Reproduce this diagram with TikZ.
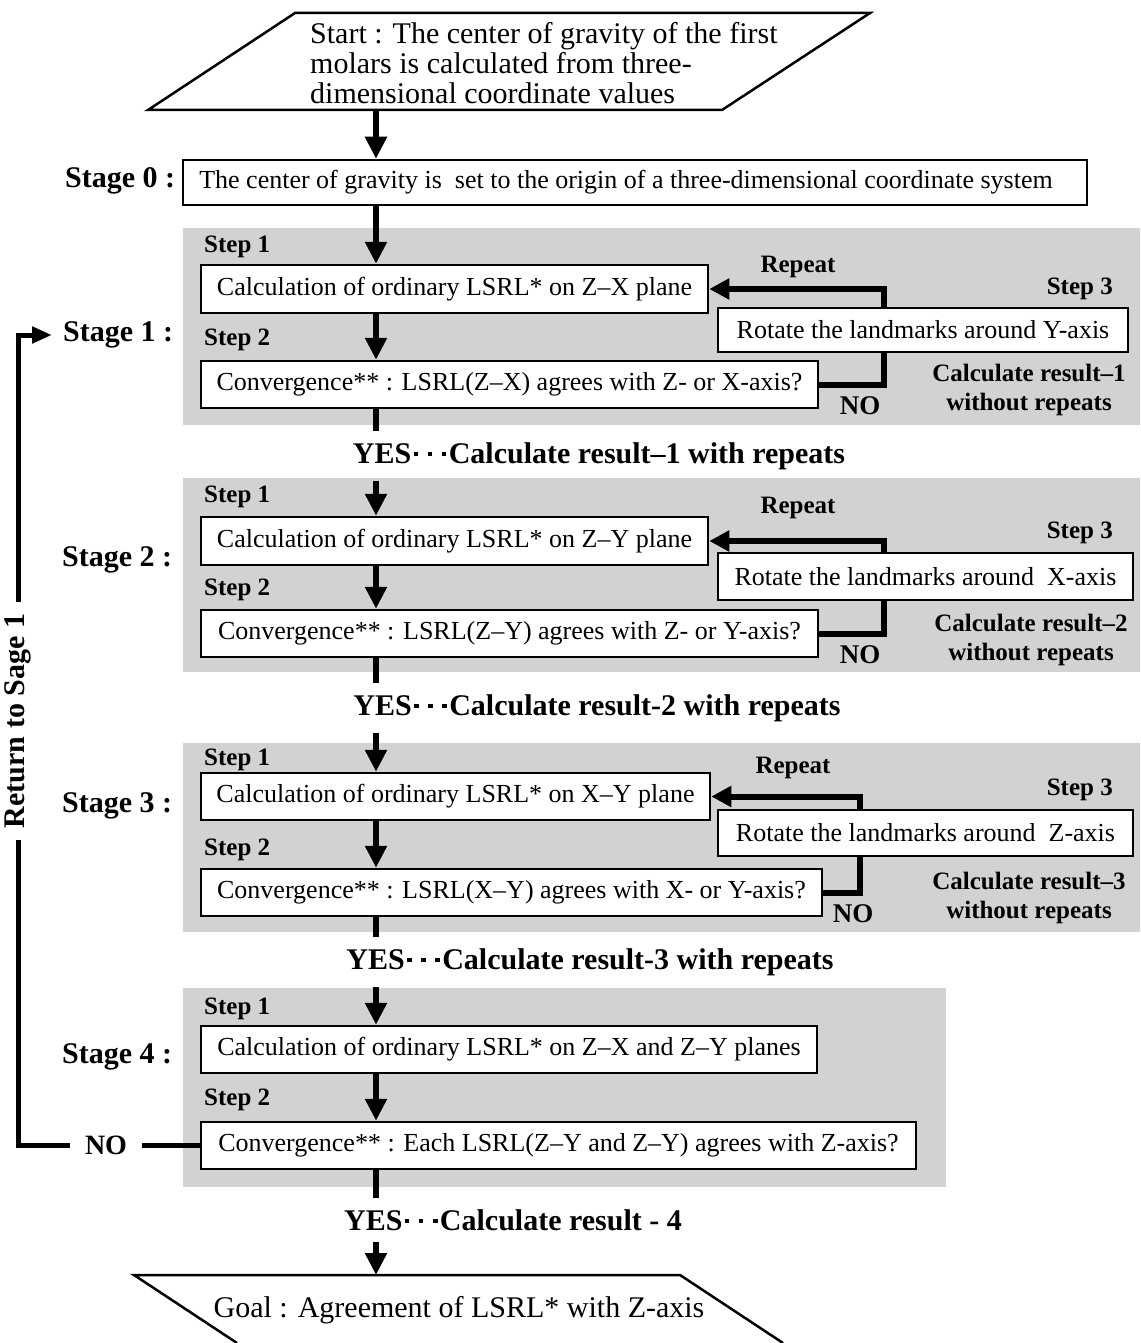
\documentclass[tikz,border=0pt]{standalone}
\usepackage{fontspec}
\setmainfont{Liberation Serif}
\usetikzlibrary{arrows.meta,calc}
\definecolor{panel}{RGB}{210,210,210}
\newcommand{\ydots}{\hspace{0.08em}\rule[0.24em]{0.15em}{0.15em}\hspace{0.32em}\rule[0.24em]{0.15em}{0.15em}\hspace{0.32em}\rule[0.24em]{0.15em}{0.15em}\hspace{0.08em}}
\tikzset{
  box/.style={draw=black, line width=2.5pt, fill=white, inner sep=0pt, font=\fontsize{26}{30}\selectfont},
  lab/.style={inner sep=0pt, font=\bfseries\fontsize{25}{29}\selectfont},
  stagelab/.style={inner sep=0pt, anchor=west, font=\bfseries\fontsize{30}{34}\selectfont},
  yeslab/.style={inner xsep=0pt, inner ysep=11pt, font=\bfseries\fontsize{30}{34}\selectfont},
  conn/.style={line width=6pt},
  arr/.style={line width=6pt, -{Triangle[width=21pt,length=22pt]}},
  loopline/.style={line width=6pt, -{Triangle[width=20pt,length=20pt]}},
  retline/.style={line width=5pt},
  shapeline/.style={line width=2.5pt, line join=miter},
}
\begin{document}
\begin{tikzpicture}[x=1pt,y=-1pt]
\useasboundingbox (0,0) rectangle (1140,1343);
% grey panels
\fill[panel] (183,228) rectangle (1140,425);
\fill[panel] (183,478) rectangle (1140,672);
\fill[panel] (183,743) rectangle (1140,932);
\fill[panel] (183,988) rectangle (946,1187);

% start
\draw[shapeline] (295,13) -- (870,13) -- (722,110) -- (148,110) -- cycle;
\node[anchor=west, inner sep=0pt, align=left, font=\fontsize{30}{30}\selectfont] (start) at (310,63)
  {Start : The center of gravity of the first\\molars is calculated from three-\\dimensional coordinate values};
\coordinate (mx) at (376,110);

% stage 0
\node[stagelab] (st0) at (65,181) {Stage 0 :};
\node[box, minimum width=904pt, minimum height=45pt] (s0) at (635,182.5)
  {\hspace*{-18pt}The center of gravity is~ set to the origin of a three-dimensional coordinate system};
\draw[arr] (mx) -- (mx |- s0.north);

% stage 1
\node[stagelab] (st1) at (63,335) {Stage 1 :};
\node[box, minimum width=507pt, minimum height=48pt] (b11) at (454.5,289) {Calculation of ordinary LSRL* on Z–X plane};
\node[box, minimum width=617pt, minimum height=47pt] (b12) at (509.5,384.5) {Convergence** : LSRL(Z–X) agrees with Z- or X-axis?};
\coordinate (k1) at (884,289);
\draw[loopline] (b12.east) -| (k1) -- (b11.east);
\node[box, minimum width=410pt, minimum height=44pt] (b13) at (923,330) {Rotate the landmarks around Y-axis};
\node[lab, anchor=west] (s11) at (204,247) {Step 1};
\node[lab, anchor=west] (s12) at (204,340) {Step 2};
\node[lab, anchor=east] (s13) at (1113,289) {Step 3};
\node[lab] (r1) at (798,267) {Repeat};
\node[lab, font=\bfseries\fontsize{27}{29}\selectfont] (n1) at (860,406) {NO};
\node[lab, align=center] (c1) at (1029,389.5) {Calculate result–1\\without repeats};
\draw[arr] (mx |- s0.south) -- (mx |- b11.north);
\draw[arr] (mx |- b11.south) -- (mx |- b12.north);
\node[yeslab] (y1) at (599,456) {YES\ydots Calculate result–1 with repeats};
\draw[conn] (mx |- b12.south) -- (mx |- y1.north);

% stage 2
\node[stagelab] (st2) at (62,560) {Stage 2 :};
\node[box, minimum width=507pt, minimum height=48pt] (b21) at (454.5,541) {Calculation of ordinary LSRL* on Z–Y plane};
\node[box, minimum width=617pt, minimum height=47pt] (b22) at (509.5,633.5) {Convergence** : LSRL(Z–Y) agrees with Z- or Y-axis?};
\coordinate (k2) at (884,541);
\draw[loopline] (b22.east) -| (k2) -- (b21.east);
\node[box, minimum width=415pt, minimum height=47pt] (b23) at (925.5,576.5) {Rotate the landmarks around~ X-axis};
\node[lab, anchor=west] (s21) at (204,497) {Step 1};
\node[lab, anchor=west] (s22) at (204,590) {Step 2};
\node[lab, anchor=east] (s23) at (1113,533) {Step 3};
\node[lab] (r2) at (798,508) {Repeat};
\node[lab, font=\bfseries\fontsize{27}{29}\selectfont] (n2) at (860,655) {NO};
\node[lab, align=center] (c2) at (1031,639.5) {Calculate result–2\\without repeats};
\draw[arr] (mx |- y1.south) -- (mx |- b21.north);
\draw[arr] (mx |- b21.south) -- (mx |- b22.north);
\node[yeslab] (y2) at (597,708) {YES\ydots Calculate result-2 with repeats};
\draw[conn] (mx |- b22.south) -- (mx |- y2.north);

% stage 3
\node[stagelab] (st3) at (62,806) {Stage 3 :};
\node[box, minimum width=509pt, minimum height=47pt] (b31) at (455.5,796.5) {Calculation of ordinary LSRL* on X–Y plane};
\node[box, minimum width=621pt, minimum height=47pt] (b32) at (511.5,892.5) {Convergence** : LSRL(X–Y) agrees with X- or Y-axis?};
\coordinate (k3) at (860,796.5);
\draw[loopline] (b32.east) -| (k3) -- (b31.east);
\node[box, minimum width=415pt, minimum height=46pt] (b33) at (925.5,833) {Rotate the landmarks around~ Z-axis};
\node[lab, anchor=west] (s31) at (204,760) {Step 1};
\node[lab, anchor=west] (s32) at (204,850) {Step 2};
\node[lab, anchor=east] (s33) at (1113,790) {Step 3};
\node[lab] (r3) at (793,768) {Repeat};
\node[lab, font=\bfseries\fontsize{27}{29}\selectfont] (n3) at (853,914) {NO};
\node[lab, align=center] (c3) at (1029,898) {Calculate result–3\\without repeats};
\draw[arr] (mx |- y2.south) -- (mx |- b31.north);
\draw[arr] (mx |- b31.south) -- (mx |- b32.north);
\node[yeslab] (y3) at (590,962) {YES\ydots Calculate result-3 with repeats};
\draw[conn] (mx |- b32.south) -- (mx |- y3.north);

% stage 4
\node[stagelab] (st4) at (62,1057) {Stage 4 :};
\node[box, minimum width=616pt, minimum height=47pt] (b41) at (509,1049.5) {Calculation of ordinary LSRL* on Z–X and Z–Y planes};
\node[box, minimum width=715pt, minimum height=47pt] (b42) at (558.5,1145.5) {Convergence** : Each LSRL(Z–Y and Z–Y) agrees with Z-axis?};
\node[lab, anchor=west] (s41) at (204,1009) {Step 1};
\node[lab, anchor=west] (s42) at (204,1100) {Step 2};
\draw[arr] (mx |- y3.south) -- (mx |- b41.north);
\draw[arr] (mx |- b41.south) -- (mx |- b42.north);
\node[yeslab] (y4) at (513,1220) {YES\ydots Calculate result - 4};
\draw[conn] (mx |- b42.south) -- (mx |- y4.north);

% return loop
\node[lab, font=\bfseries\fontsize{28}{30}\selectfont, inner xsep=15pt] (no4) at (106,1145.5) {NO};
\node[rotate=90, font=\bfseries\fontsize{30}{34}\selectfont, inner xsep=12pt, inner ysep=0pt] (ret) at (18,721) {Return to Sage 1};
\draw[retline] (b42.west) -- (no4.east);
\draw[retline] (no4.west) -| (ret.west);
\draw[retline, -{Triangle[width=16pt,length=20pt]}, shorten >=11pt] (ret.east) |- (st1.west);

% goal
\coordinate (goaltop) at (376,1275);
\draw[shapeline] (237,1343) -- (134,1275) -- (680,1275) -- (783,1343);
\node[inner sep=0pt, font=\fontsize{30}{30}\selectfont] (goal) at (459,1310) {Goal : Agreement of LSRL* with Z-axis};
\draw[arr] (mx |- y4.south) -- (goaltop);
\end{tikzpicture}
\end{document}
